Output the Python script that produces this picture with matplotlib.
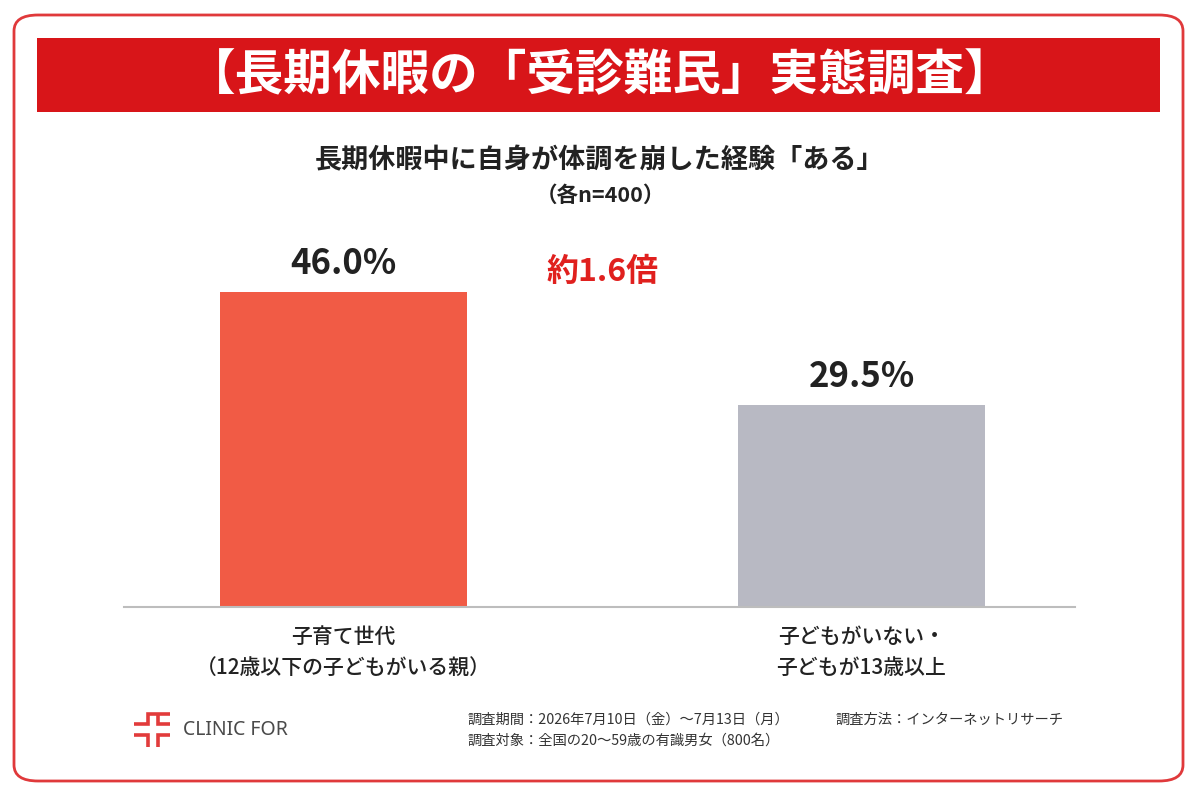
import matplotlib
matplotlib.use("Agg")
import matplotlib.pyplot as plt
from matplotlib.patches import FancyBboxPatch, Rectangle
from matplotlib.lines import Line2D

plt.rcParams['font.family'] = ['Noto Sans CJK JP', 'DejaVu Sans']

# data
categories = ["子育て世代\n（12歳以下の子どもがいる親）", "子どもがいない・\n子どもが13歳以上"]
values = [46.0, 29.5]
bar_colors = ["#f15b45", "#b8b9c3"]
value_labels = ["46.0%", "29.5%"]
ratio_text = "約1.6倍"

title = "【長期休暇の「受診難民」実態調査】"
subtitle = "長期休暇中に自身が体調を崩した経験「ある」"
subtitle2 = "（各n=400）"
note1 = "調査期間：2026年7月10日（金）～7月13日（月）"
note2 = "調査対象：全国の20～59歳の有識男女（800名）"
note3 = "調査方法：インターネットリサーチ"

W, H = 1200, 800
fig = plt.figure(figsize=(12, 8), dpi=100)
fig.patch.set_facecolor("white")

def fx(px):
    return px / W

def fy(py):
    return 1 - py / H

# outer rounded frame
frame = FancyBboxPatch((fx(14), fy(781)), fx(1183) - fx(14), fy(15) - fy(781),
                       boxstyle="round,pad=0,rounding_size=0.02",
                       transform=fig.transFigure, facecolor="none",
                       edgecolor="#e0393b", linewidth=2, zorder=-1)
fig.patches.append(frame)

# title banner
banner = Rectangle((fx(37), fy(112)), fx(1160) - fx(37), fy(38) - fy(112),
                   transform=fig.transFigure, facecolor="#d81519",
                   edgecolor="none", zorder=-1)
fig.patches.append(banner)
fig.text(0.5, fy(76), title, ha="center", va="center", color="white",
         fontsize=35, fontweight="bold")

fig.text(0.5, fy(160), subtitle, ha="center", va="center", color="#222222",
         fontsize=19.5, fontweight="bold")
fig.text(0.5, fy(195), subtitle2, ha="center", va="center", color="#222222",
         fontsize=15.5, fontweight="bold")

# bar chart
ax = fig.add_axes([fx(124), fy(607), fx(1075) - fx(124), fy(230) - fy(607)])
ax.set_zorder(2)
ax.set_facecolor("none")
x = [0, 1]
ax.bar(x, values, width=0.477, color=bar_colors, zorder=2)
ax.set_xlim(-0.4237, 1.412)
ax.set_ylim(0, 55)
for s in ["top", "right", "left"]:
    ax.spines[s].set_visible(False)
ax.spines["bottom"].set_color("#bdbdbd")
ax.spines["bottom"].set_linewidth(1.5)
ax.set_yticks([])
ax.set_xticks(x)
ax.set_xticklabels(categories, fontsize=15, fontweight="medium", color="#222222",
                   linespacing=1.5)
ax.tick_params(axis="x", length=0, pad=14)

for xi, v, lab in zip(x, values, value_labels):
    ax.text(xi, v + 1.6, lab, ha="center", va="bottom", fontsize=25,
            fontweight="bold", color="#222222")

ax.text(0.5, 48.8, ratio_text, ha="center", va="center", fontsize=23,
        fontweight="bold", color="#e0201e")

# logo
logo_segments = [
    [(134, 724), (148, 724), (148, 714), (170, 714)],
    [(158, 714), (158, 724), (170, 724)],
    [(134, 735), (148, 735), (148, 747)],
    [(158, 747), (158, 735), (170, 735)],
]
for seg in logo_segments:
    fig.lines.append(Line2D([fx(p[0]) for p in seg], [fy(p[1]) for p in seg],
                            transform=fig.transFigure, color="#e23b3b",
                            linewidth=2.6, solid_joinstyle="miter",
                            solid_capstyle="butt"))
fig.text(fx(183), fy(730), "CLINIC FOR", ha="left", va="center",
         fontsize=14, color="#4a4a4a", fontweight="medium",
         family=["Noto Sans", "DejaVu Sans"])

# footer notes
fig.text(fx(468), fy(720), note1, ha="left", va="center", fontsize=10.3, color="#333333")
fig.text(fx(468), fy(741), note2, ha="left", va="center", fontsize=10.3, color="#333333")
fig.text(fx(835), fy(720), note3, ha="left", va="center", fontsize=10.3, color="#333333")

fig.savefig("out.png", dpi=100, facecolor="white")
